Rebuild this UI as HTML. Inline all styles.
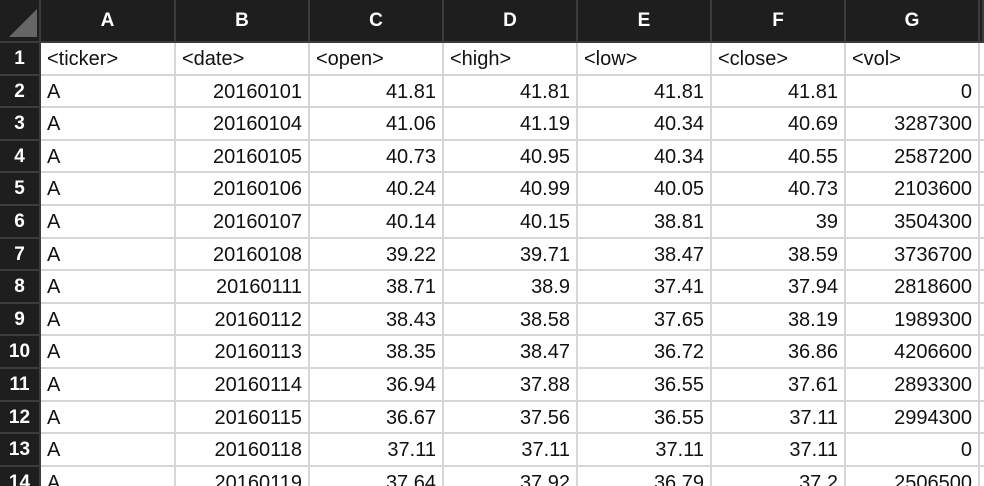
<!DOCTYPE html>
<html><head><meta charset="utf-8"><style>
body{margin:0;width:984px;height:486px;overflow:hidden;background:#fff;font-family:"Liberation Sans",sans-serif;}
#g{position:absolute;left:0;top:0;width:984px;height:486px;overflow:hidden;}
.c{position:absolute;box-sizing:border-box;font-size:20px;color:#111;line-height:32px;padding:0 6px;white-space:nowrap;overflow:hidden;border-right:2px solid #d6d6d6;border-bottom:2px solid #d6d6d6;}
.h{background:#1e1e1e;color:#fff;text-align:center;font-size:19px;font-weight:bold;line-height:42px;border-right:2px solid #3c3c3c;border-bottom:2px solid #3c3c3c;padding:0;}
.rn{background:#1e1e1e;color:#fff;text-align:center;font-size:19px;font-weight:bold;border-right:2px solid #3c3c3c;border-bottom:2px solid #3c3c3c;padding:0;}
.r{text-align:right;}
</style></head><body>
<div id="g"></div>
<script>
const colX=[0,41,176,310,444,578,712,846,980,984];
const letters=['A','B','C','D','E','F','G'];
const rows=[
['<ticker>','<date>','<open>','<high>','<low>','<close>','<vol>'],
['A','20160101','41.81','41.81','41.81','41.81','0'],
['A','20160104','41.06','41.19','40.34','40.69','3287300'],
['A','20160105','40.73','40.95','40.34','40.55','2587200'],
['A','20160106','40.24','40.99','40.05','40.73','2103600'],
['A','20160107','40.14','40.15','38.81','39','3504300'],
['A','20160108','39.22','39.71','38.47','38.59','3736700'],
['A','20160111','38.71','38.9','37.41','37.94','2818600'],
['A','20160112','38.43','38.58','37.65','38.19','1989300'],
['A','20160113','38.35','38.47','36.72','36.86','4206600'],
['A','20160114','36.94','37.88','36.55','37.61','2893300'],
['A','20160115','36.67','37.56','36.55','37.11','2994300'],
['A','20160118','37.11','37.11','37.11','37.11','0'],
['A','20160119','37.64','37.92','36.79','37.2','2506500']];
const g=document.getElementById('g');
function cell(cls,x,y,w,h,t,name,inter){const d=document.createElement('div');d.className=cls;d.style.left=x+'px';d.style.top=y+'px';d.style.width=w+'px';d.style.height=h+'px';d.textContent=t;


g.appendChild(d);return d;}
const corner=cell('c h',0,0,41,43,'','select-all-corner','true');
corner.innerHTML='<svg width="36" height="36" style="position:absolute;left:3px;top:3px"><polygon points="34,6 34,34 6,34" fill="#666"/></svg>';
for(let i=0;i<letters.length+1;i++){cell('c h',colX[i+1],0,colX[i+2]-colX[i+1],43,letters[i]||'','column-header-'+(letters[i]||'h').toLowerCase(),'true');}
const top0=43,rh=32.6;
rows.forEach((r,ri)=>{const y=Math.round(top0+ri*rh),h=Math.round(top0+(ri+1)*rh)-y;
cell('c rn',0,y,41,h,String(ri+1),'row-header-'+(ri+1),'true');
r.forEach((v,ci)=>{const right=ri>0&&ci>0;cell('c'+(right?' r':''),colX[ci+1],y,colX[ci+2]-colX[ci+1],h,v,'cell-'+letters[ci].toLowerCase()+(ri+1),'true');});
cell('c',colX[8],y,colX[9]-colX[8],h,'','cell-h'+(ri+1),'true');
});
</script>
</body></html>
